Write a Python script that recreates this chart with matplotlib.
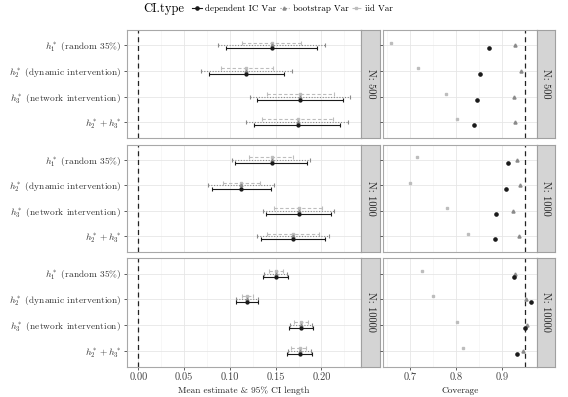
import numpy as np
import matplotlib as mpl
mpl.use('Agg')
import matplotlib.pyplot as plt
from matplotlib.lines import Line2D

plt.rcParams['font.family'] = 'serif'
plt.rcParams['font.serif'] = ['cmr10', 'DejaVu Serif']
plt.rcParams['mathtext.fontset'] = 'cm'
plt.rcParams['axes.formatter.use_mathtext'] = True

# ---- data ----
labels = [r'$h_1^*$ (random 35%)', r'$h_2^*$ (dynamic intervention)',
          r'$h_3^*$ (network intervention)', r'$h_2^* + h_3^*$']
sizes = ['N: 500', 'N: 1000', 'N: 10000']
ci_types = ['dependent IC Var', 'bootstrap Var', 'iid Var']

est = [[0.146, 0.118, 0.176, 0.174],
       [0.1455, 0.112, 0.175, 0.169],
       [0.150, 0.119, 0.178, 0.176]]

# lower / upper bound of the 95% CI, per N, per CI type, per estimand
ci_lo = {
    'dependent IC Var': [[0.0956, 0.0775, 0.130, 0.1265],
                         [0.106, 0.0807, 0.139, 0.134],
                         [0.1364, 0.1065, 0.1647, 0.1625]],
    'bootstrap Var':    [[0.0873, 0.068, 0.1218, 0.118],
                         [0.102, 0.0764, 0.1356, 0.130],
                         [0.1372, 0.1072, 0.1655, 0.1632]],
    'iid Var':          [[0.1127, 0.0898, 0.140, 0.135],
                         [0.121, 0.092, 0.148, 0.1407],
                         [0.1425, 0.1127, 0.170, 0.167]],
}
ci_hi = {
    'dependent IC Var': [[0.1956, 0.159, 0.223, 0.2207],
                         [0.184, 0.1444, 0.2105, 0.2036],
                         [0.1636, 0.131, 0.191, 0.1895]],
    'bootstrap Var':    [[0.2036, 0.1676, 0.231, 0.229],
                         [0.187, 0.148, 0.2135, 0.2084],
                         [0.1628, 0.1303, 0.190, 0.1888]],
    'iid Var':          [[0.178, 0.147, 0.2135, 0.2127],
                         [0.169, 0.1327, 0.201, 0.197],
                         [0.158, 0.1255, 0.1855, 0.1836]],
}
coverage = {
    'dependent IC Var': [[0.871, 0.852, 0.846, 0.840],
                         [0.913, 0.908, 0.888, 0.886],
                         [0.927, 0.964, 0.950, 0.933]],
    'bootstrap Var':    [[0.929, 0.942, 0.926, 0.929],
                         [0.933, 0.939, 0.924, 0.938],
                         [0.928, 0.953, 0.955, 0.946]],
    'iid Var':          [[0.657, 0.717, 0.779, 0.802],
                         [0.715, 0.700, 0.780, 0.825],
                         [0.726, 0.750, 0.802, 0.815]],
}

# ---- styles ----
col = {'dependent IC Var': '#1a1a1a', 'bootstrap Var': '#8a8a8a', 'iid Var': '#bdbdbd'}
ls = {'dependent IC Var': '-', 'bootstrap Var': (0, (1, 1.5)), 'iid Var': (0, (3, 2))}
mk = {'dependent IC Var': 'o', 'bootstrap Var': '^', 'iid Var': 's'}
ms = {'dependent IC Var': 2.3, 'bootstrap Var': 2.2, 'iid Var': 1.8}
dodge = {'dependent IC Var': -0.12, 'bootstrap Var': 0.0, 'iid Var': 0.11}

W, H = 568, 397
fig = plt.figure(figsize=(W / 100, H / 100), dpi=100)

def rect(x0, x1, ytop, ybot):
    return [x0 / W, 1 - ybot / H, (x1 - x0) / W, (ybot - ytop) / H]

rows = [(30, 137.5), (144.7, 251.7), (258, 366.5)]
left_x = (127.3, 360.7)
right_x = (383.3, 536.7)
border = '#a8a8a8'
ypos = np.array([4, 3, 2, 1])

def style_panel(ax, xlim, major, minor, bottom):
    ax.set_xlim(*xlim)
    ax.set_ylim(0.4, 4.6)
    ax.set_xticks(major)
    ax.set_xticks(minor, minor=True)
    ax.set_yticks(ypos)
    ax.grid(which='major', color='#e6e6e6', lw=0.6)
    ax.grid(which='minor', color='#f2f2f2', lw=0.4)
    ax.set_axisbelow(True)
    for s in ax.spines.values():
        s.set_color(border)
        s.set_linewidth(0.8)
    ax.tick_params(axis='y', length=2.5, width=0.6, color='#444444', pad=2)
    ax.tick_params(axis='x', which='minor', length=0)
    if bottom:
        ax.tick_params(axis='x', length=2.5, width=0.6, color='#444444',
                       labelsize=7.5, labelcolor='#444444', pad=2)
    else:
        ax.tick_params(axis='x', length=0, labelbottom=False)

def strip(x0, x1, ytop, ybot, text):
    sa = fig.add_axes(rect(x0, x1, ytop, ybot))
    sa.set_facecolor('#d4d4d4')
    sa.set_xticks([])
    sa.set_yticks([])
    for s in sa.spines.values():
        s.set_color('#a0a0a0')
        s.set_linewidth(0.8)
    sa.text(0.5, 0.5, text, rotation=270, ha='center', va='center',
            fontsize=7.5, color='#222222', transform=sa.transAxes)

for r, (yt, yb) in enumerate(rows):
    bottom = r == 2
    axl = fig.add_axes(rect(left_x[0], left_x[1], yt, yb))
    style_panel(axl, (-0.012, 0.2428), [0.0, 0.05, 0.10, 0.15, 0.20],
                [0.025, 0.075, 0.125, 0.175, 0.225], bottom)
    axl.set_yticklabels(labels, fontsize=6.8, color='#333333')
    axl.axvline(0, color='#222222', ls=(0, (4, 3)), lw=0.9)
    for t in ['iid Var', 'bootstrap Var', 'dependent IC Var']:
        lo = np.array(ci_lo[t][r])
        hi = np.array(ci_hi[t][r])
        e = np.array(est[r])
        eb = axl.errorbar(e, ypos + dodge[t], xerr=[e - lo, hi - e], fmt=mk[t],
                          ms=ms[t] * 0.9, color=col[t], ecolor=col[t], elinewidth=0.8,
                          capsize=1.5, capthick=0.8)
        eb[2][0].set_linestyle(ls[t])
    if bottom:
        axl.set_xticklabels(['0.00', '0.05', '0.10', '0.15', '0.20'])
        axl.set_xlabel('Mean estimate & 95% CI length', fontsize=6.7,
                       color='#222222', labelpad=3)
    strip(left_x[1], 380, yt, yb, sizes[r])

    axr = fig.add_axes(rect(right_x[0], right_x[1], yt, yb))
    style_panel(axr, (0.641, 0.976), [0.7, 0.8, 0.9], [0.65, 0.75, 0.85, 0.95], bottom)
    axr.set_yticklabels([])
    axr.axvline(0.95, color='#222222', ls=(0, (4, 3)), lw=0.9)
    for t in ['iid Var', 'bootstrap Var', 'dependent IC Var']:
        axr.plot(coverage[t][r], ypos + dodge[t], ls='none', marker=mk[t],
                 ms=ms[t], color=col[t])
    if bottom:
        axr.set_xticklabels(['0.7', '0.8', '0.9'])
        axr.set_xlabel('Coverage', fontsize=6.7, color='#222222', labelpad=3)
    strip(right_x[1], 555, yt, yb, sizes[r])

# legend across the top
fig.text(143 / W, 1 - 9 / H, 'CI.type', fontsize=9, ha='left', va='center')
handles = [Line2D([], [], color=col[t], ls=ls[t], lw=0.8, marker=mk[t], ms=ms[t])
           for t in ci_types]
fig.legend(handles, ci_types, loc='center left', bbox_to_anchor=(192 / W, 1 - 9 / H),
           ncol=3, frameon=False, fontsize=6.5, handlelength=1.1, handletextpad=0.35,
           columnspacing=0.35, borderaxespad=0, borderpad=0)

fig.savefig('out.png', dpi=100)
